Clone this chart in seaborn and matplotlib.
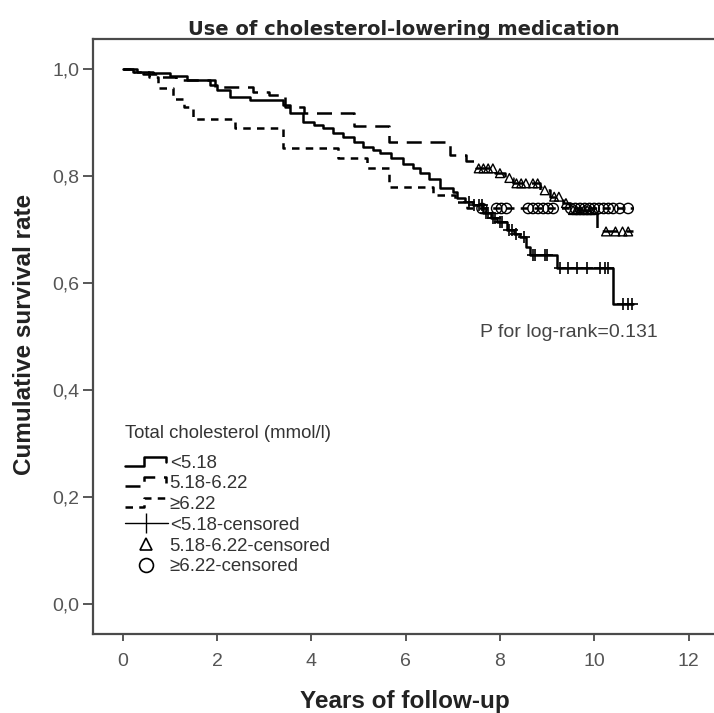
import numpy as np
import pandas as pd
import matplotlib
matplotlib.use("Agg")
import matplotlib.pyplot as plt
import seaborn as sns
from matplotlib.lines import Line2D
from matplotlib.legend_handler import HandlerLine2D
from matplotlib.ticker import FuncFormatter

# Kaplan-Meier steps (time in years, survival after the step)
groups = ["<5.18", "5.18-6.22", "≥6.22"]
end_time = 10.83

t_low = [0, 0.3, 0.65, 1.0, 1.36, 1.85, 2.0, 2.27, 2.70, 3.40, 3.55, 3.83, 4.05, 4.25,
         4.45, 4.68, 4.90, 5.10, 5.30, 5.45, 5.70, 5.95, 6.15, 6.30, 6.50, 6.73, 7.01,
         7.08, 7.25, 7.43, 7.64, 7.80, 7.93, 8.14, 8.30, 8.42, 8.56, 8.63, 9.20, 10.40]
s_low = [1.0, .996, .993, .987, .981, .971, .962, .949, .943, .933, .918, .902, .896, .890,
         .882, .874, .865, .855, .849, .843, .834, .824, .815, .806, .795, .778, .771,
         .759, .752, .746, .731, .722, .715, .700, .693, .687, .668, .653, .628, .562]

t_mid = [0, 0.21, 0.44, 0.72, 1.14, 1.96, 2.77, 3.10, 3.45, 3.85, 4.90, 5.65, 6.94, 7.29,
         7.50, 7.90, 8.10, 8.28, 8.85, 9.06, 9.34, 9.48, 10.05]
s_mid = [1.0, .996, .991, .986, .980, .968, .958, .952, .930, .918, .894, .865, .840, .828,
         .815, .806, .797, .787, .774, .762, .750, .737, .697]

t_high = [0, 0.15, 0.55, 0.75, 1.07, 1.30, 1.50, 2.38, 3.40, 4.56, 5.17, 5.65, 6.59, 7.05, 7.30]
s_high = [1.0, .996, .986, .965, .944, .930, .907, .890, .853, .834, .815, .781, .765, .752, .740]

# censored observations
c_low = [7.35, 7.45, 7.55, 7.62, 7.70, 7.75, 7.85, 7.90, 8.00, 8.05, 8.20, 8.25, 8.35, 8.50,
         8.70, 8.75, 8.95, 9.00, 9.27, 9.44, 9.63, 9.84, 10.12, 10.23, 10.30, 10.60, 10.72, 10.80]
c_mid = [7.55, 7.65, 7.75, 7.85, 8.00, 8.20, 8.35, 8.45, 8.55, 8.70, 8.80, 8.95, 9.15, 9.25,
         9.40, 9.55, 9.62, 9.70, 9.78, 9.85, 9.92, 10.00, 10.25, 10.45, 10.60, 10.72]
c_high = [7.62, 7.93, 8.03, 8.14, 8.60, 8.70, 8.81, 8.92, 9.02, 9.13, 9.50, 9.60, 9.70, 9.80,
          9.90, 10.00, 10.10, 10.20, 10.30, 10.40, 10.54, 10.72]

p_text = "P for log-rank=0.131"

steps = {"<5.18": (t_low, s_low), "5.18-6.22": (t_mid, s_mid), "≥6.22": (t_high, s_high)}
censored = {"<5.18": c_low, "5.18-6.22": c_mid, "≥6.22": c_high}


def surv_at(times, surv, t):
    idx = np.searchsorted(times, t, side="right") - 1
    return np.asarray(surv)[idx]


rows = []
for g, (t, s) in steps.items():
    for ti, si in zip(list(t) + [end_time], list(s) + [s[-1]]):
        rows.append({"time": ti, "surv": si, "group": g})
curves = pd.DataFrame(rows)

cens_rows = []
for g, c in censored.items():
    t, s = steps[g]
    for ci, si in zip(c, surv_at(t, s, c)):
        cens_rows.append({"time": ci, "surv": si, "group": g})
cens = pd.DataFrame(cens_rows)

sns.set_style("ticks")
plt.rcParams["font.family"] = ["Liberation Sans", "DejaVu Sans"]

fig = plt.figure(figsize=(7.14, 7.13), dpi=100)
ax = fig.add_axes([0.1303, 0.1108, 0.8697, 0.8345])

lw = 1.8
dashes = {"<5.18": "", "5.18-6.22": (6, 3.5), "≥6.22": (3, 2.5)}
sns.lineplot(data=curves, x="time", y="surv", style="group", dashes=dashes,
             style_order=groups, color="black", linewidth=lw, drawstyle="steps-post",
             estimator=None, sort=False, legend=False, ax=ax)

sub = cens[cens.group == "<5.18"]
sns.scatterplot(x=sub.time, y=sub.surv, marker="+", color="black", s=70,
                linewidth=1.2, ax=ax, legend=False, zorder=3)
sub = cens[cens.group == "5.18-6.22"]
sns.scatterplot(x=sub.time, y=sub.surv, marker="^", facecolor="none", edgecolor="black",
                s=40, linewidth=1.0, ax=ax, legend=False, zorder=3)
sub = cens[cens.group == "≥6.22"]
sns.scatterplot(x=sub.time, y=sub.surv, marker="o", facecolor="none", edgecolor="black",
                s=55, linewidth=1.0, ax=ax, legend=False, zorder=3)

ax.set_xlim(-0.63, 12.54)
ax.set_ylim(-0.056, 1.057)
ax.set_xticks(range(0, 13, 2))
ax.set_yticks(np.arange(0, 1.01, 0.2))
ax.yaxis.set_major_formatter(FuncFormatter(lambda v, p: f"{v:.1f}".replace(".", ",")))

spine_col = "#4a4a4a"
for side in ["left", "bottom", "top"]:
    ax.spines[side].set_color(spine_col)
    ax.spines[side].set_linewidth(1.6)
ax.spines["right"].set_visible(False)
ax.tick_params(axis="both", direction="out", width=1.3, color=spine_col,
               labelcolor="#555555", labelsize=14)
ax.tick_params(axis="x", length=5, pad=9)
ax.tick_params(axis="y", length=7, pad=3)

ax.set_xlabel("Years of follow-up", fontsize=17.5, fontweight="bold", color="#222222")
ax.set_ylabel("Cumulative survival rate", fontsize=17.5, fontweight="bold", color="#222222")
ax.xaxis.set_label_coords(0.502, -0.094)
ax.yaxis.set_label_coords(-0.092, 0.503)
ax.set_title("Use of cholesterol-lowering medication", fontsize=14, fontweight="bold",
             family="DejaVu Sans", pad=3)

ax.text(7.57, 0.5, p_text, fontsize=14, color="#444444", ha="left", va="baseline")


class StepHandler(HandlerLine2D):
    def create_artists(self, legend, orig_handle, xdescent, ydescent, width, height,
                       fontsize, trans):
        x0 = -xdescent
        y0 = -ydescent
        xs = [x0, x0 + 0.45 * width, x0 + 0.45 * width, x0 + 0.95 * width, x0 + 0.95 * width]
        ys = [y0 + 0.15 * height, y0 + 0.15 * height, y0 + 0.85 * height,
              y0 + 0.85 * height, y0 + 0.45 * height]
        line = Line2D(xs, ys)
        self.update_prop(line, orig_handle, legend)
        line.set_transform(trans)
        return [line]


h_low = Line2D([], [], color="black", lw=lw)
h_mid = Line2D([], [], color="black", lw=lw, dashes=(6, 3.5))
h_high = Line2D([], [], color="black", lw=lw, dashes=(3, 2.5))
h_c_low = Line2D([], [], color="black", lw=1.0, marker="|", ms=15, mew=1.0)
h_c_mid = Line2D([], [], ls="none", marker="^", mfc="none", mec="black", ms=9, mew=1.2)
h_c_high = Line2D([], [], ls="none", marker="o", mfc="none", mec="black", ms=10, mew=1.2)

handles = [h_low, h_mid, h_high, h_c_low, h_c_mid, h_c_high]
labels = ["<5.18", "5.18-6.22", "≥6.22", "<5.18-censored", "5.18-6.22-censored",
          "≥6.22-censored"]
step_h = StepHandler()
leg = ax.legend(handles, labels, title="Total cholesterol (mmol/l)", loc="upper left",
                bbox_to_anchor=(0.0515, 0.351), frameon=False, fontsize=13.4,
                title_fontsize=13.4, handlelength=2.3, handletextpad=0.1,
                labelspacing=0.2, borderpad=0, borderaxespad=0, alignment="left",
                numpoints=1, handler_map={h_low: step_h, h_mid: step_h, h_high: step_h})
for txt in leg.get_texts():
    txt.set_color("#333333")
leg.get_title().set_color("#333333")
leg._legend_box.sep = 9

fig.savefig("out.png", dpi=100)
